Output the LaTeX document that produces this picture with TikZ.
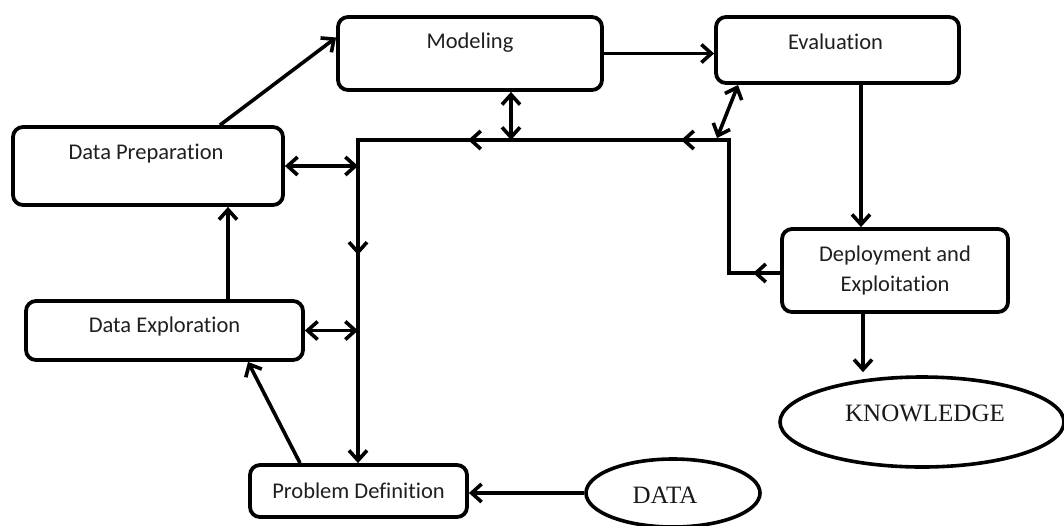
\documentclass[tikz,border=0pt]{standalone}
\usepackage{fontspec}
\setmainfont{Carlito}[Ligatures=NoCommon]
\newfontfamily\timesfont{Liberation Serif}
\usetikzlibrary{arrows.meta,calc,decorations.markings,shapes.geometric}
\begin{document}
\begin{tikzpicture}[x=1pt,y=-1pt,
  >={Straight Barb[length=10pt,width=18pt]},
  box/.style={draw, line width=3.8pt, rounded corners=10pt, inner sep=0pt, fill=white},
  lbl/.style={font=\fontsize{22.5}{30}\selectfont, text=black!88, align=center},
  oval/.style={ellipse, draw, line width=3.6pt, inner sep=0pt, fill=white},
  olbl/.style={font=\timesfont\fontsize{25}{30}\selectfont, text=black!90},
  conn/.style={line width=3.6pt, ->},
  dbl/.style={line width=3.6pt, <->},
  bus/.style={line width=3.6pt, ->, postaction={decorate}, decoration={markings,
     mark=at position 27pt with {\arrow{>}},
     mark=at position 232pt with {\arrow{>}},
     mark=at position 445pt with {\arrow{>}},
     mark=at position 670pt with {\arrow{>}}}}
]
\useasboundingbox (0,0) rectangle (1064,525);

% boxes
\node[box, minimum width=270pt, minimum height=78pt,
  label={[lbl,yshift=12pt,xshift=-2pt]center:Data Preparation}] (prep) at (148,166) {};
\node[box, minimum width=264pt, minimum height=73pt,
  label={[lbl,yshift=11pt]center:Modeling}] (model) at (470,53.5) {};
\node[box, minimum width=243pt, minimum height=66pt,
  label={[lbl,yshift=8pt,xshift=-2pt]center:Evaluation}] (eval) at (837.5,50) {};
\node[box, minimum width=226pt, minimum height=83pt,
  label={[lbl]center:{Deployment and\\Exploitation}}] (deploy) at (895,270.5) {};
\node[box, minimum width=277pt, minimum height=59pt,
  label={[lbl,yshift=4pt]center:Data Exploration}] (explore) at (164.5,330.5) {};
\node[box, minimum width=217pt, minimum height=52pt,
  label={[lbl]center:Problem Definition}] (prob) at (358.5,491) {};

% ellipses
\node[oval, minimum width=174pt, minimum height=68pt,
  label={[olbl,xshift=-8pt,yshift=-2pt]center:DATA}] (data) at (673,493) {};
\node[oval, minimum width=284pt, minimum height=90pt,
  label={[olbl,xshift=3pt,yshift=9pt]center:KNOWLEDGE}] (know) at (922,422) {};

% bus coordinates
\coordinate (bx) at (358,140);
\coordinate (brt) at (729,140);
\coordinate (brb) at (729,273);
\coordinate (mx) at (511,140);
\coordinate (ea) at (738,85);
\coordinate (eb) at (717,138);
\coordinate (ex) at (861,0);
\coordinate (kx) at (863,0);

% bus
\draw[bus] (brb -| deploy.west) -- (brb) -- (brt) -- (bx) -- (bx |- prob.north);

% double arrows to the bus
\draw[dbl] (prep.east) -- (prep.east -| bx);
\draw[dbl] (explore.east) -- (explore.east -| bx);
\draw[dbl] (mx |- model.south) -- (mx);
\draw[dbl] (ea) -- (eb);

% flow arrows
\draw[conn] ($(prep.north)+(72,0)$) -- ($(model.west)+(0,-16)$);
\draw[conn] (model.east) -- (model.east -| eval.west);
\draw[conn] (ex |- eval.south) -- (ex |- deploy.north);
\draw[conn, shorten >=3pt] (kx |- deploy.south) -- (kx |- know.north);
\draw[conn] (data.west) -- (data.west -| prob.east);
\draw[conn] ($(prob.north)+(-58.5,0)$) -- ($(explore.south)+(83.5,0)$);
\draw[conn] ($(explore.north)+(63.5,0)$) -- ($(prep.south)+(80,0)$);
\end{tikzpicture}
\end{document}
